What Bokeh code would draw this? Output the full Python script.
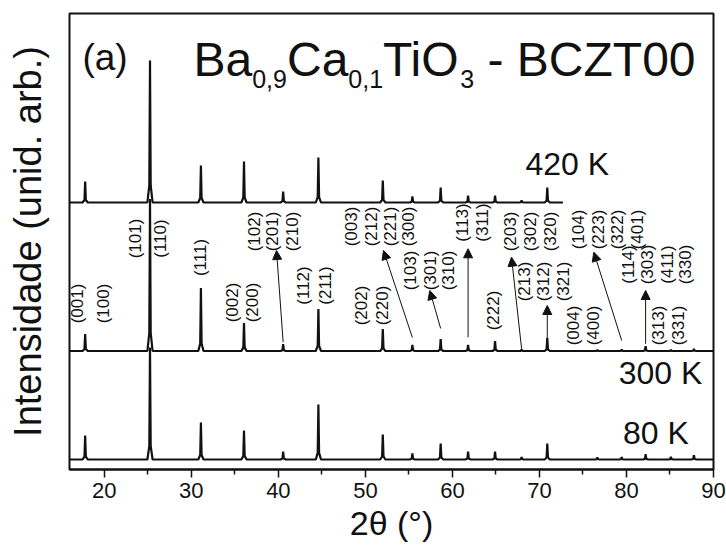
import math
from bokeh.plotting import figure
from bokeh.models import ColumnDataSource, Label, Arrow, NormalHead, FixedTicker, Range1d
from bokeh.core.properties import value
from bokeh.embed import file_html
from bokeh.resources import INLINE

# ---------------- data ----------------
peak_pos = [17.8, 25.25, 31.1, 36.05, 40.55, 44.6, 52.0, 55.4, 58.65, 61.8,
            64.9, 67.95, 70.9, 76.65, 79.45, 82.2, 85.1, 87.75]
int_80K = [24, 112, 37, 29, 8, 55, 25, 6, 16, 8, 8, 2.3, 16, 2, 2.3, 5.3, 2.7, 4.3]
int_300K = [17, 152, 63, 28, 7, 42, 22, 6, 12, 6, 10, 1.5, 13.5, 1, 1.5, 4.7, 1, 2]
int_420K = [21, 142, 37, 41, 11, 45, 22, 6, 15, 7, 7, 2, 15]
offset_80K, offset_300K, offset_420K = 10, 118.5, 267
x_min, x_max, x_end_420K = 16, 90, 72.7
temp_labels = ["420 K", "300 K", "80 K"]
temp_label_x = [73.19, 83.91, 83.39]
temp_label_y = [305.5, 97, 37]

hkl_text = ["(001)", "(100)", "(101)", "(110)", "(111)", "(002)", "(200)",
            "(102)", "(201)", "(210)", "(112)", "(211)", "(202)", "(220)",
            "(003)", "(212)", "(221)", "(300)", "(103)", "(301)", "(310)",
            "(113)", "(311)", "(222)", "(203)", "(302)", "(320)",
            "(213)", "(312)", "(321)", "(004)", "(400)",
            "(104)", "(223)", "(322)", "(401)", "(114)", "(303)", "(411)", "(330)",
            "(313)", "(331)"]
hkl_x = [16.95, 19.94, 23.58, 26.46, 31.05, 34.70, 36.99,
         37.26, 39.36, 41.66, 42.92, 45.42, 49.55, 51.93,
         48.37, 50.67, 52.89, 54.99, 55.18, 57.48, 59.58,
         61.12, 63.42, 64.75, 66.67, 68.97, 71.27,
         68.28, 70.50, 72.80, 73.88, 76.18,
         74.52, 76.82, 78.93, 81.23, 80.27, 82.38, 84.68, 86.78,
         83.71, 85.94]
hkl_y = [166, 166, 231, 231, 212, 167, 167,
         238, 238, 238, 184, 184, 164, 164,
         243, 243, 243, 243, 199, 199, 199,
         247, 247, 159, 238, 238, 238,
         188, 188, 188, 144, 144,
         240, 240, 240, 240, 205, 205, 205, 205,
         144, 144]

arrow_x0 = [40.55, 55.4, 58.65, 61.8, 67.95, 70.9, 79.45, 82.2]
arrow_y0 = [127.3, 132, 141, 132.3, 120.7, 132.3, 129, 125.7]
arrow_x1 = [39.79, 52.08, 57.40, 61.8, 66.79, 70.9, 76.25, 82.2]
arrow_y1 = [219, 219, 179, 220.7, 212.3, 164, 217.3, 179]

x_ticks = [20, 30, 40, 50, 60, 70, 80, 90]
x_minor = [25, 35, 45, 55, 65, 75, 85]

FONT = "Liberation Sans"
INK = "#111111"

# ---------------- figure ----------------
p = figure(width=726, height=547, output_backend="svg", toolbar_location=None,
           x_range=Range1d(x_min, x_max), y_range=Range1d(0, 456),
           min_border_left=69, min_border_right=13,
           min_border_top=13, min_border_bottom=78)
p.xgrid.visible = False
p.ygrid.visible = False
p.outline_line_color = INK
p.outline_line_width = 2
p.background_fill_color = "white"
p.border_fill_color = "white"

ax = p.xaxis[0]
ax.ticker = FixedTicker(ticks=x_ticks, minor_ticks=x_minor)
ax.axis_line_width = 2
ax.axis_line_color = INK
ax.major_tick_in = 0
ax.major_tick_out = 8
ax.minor_tick_in = 0
ax.minor_tick_out = 5
ax.major_tick_line_width = 1.5
ax.minor_tick_line_width = 1.5
ax.major_tick_line_color = INK
ax.minor_tick_line_color = INK
ax.major_label_text_font = FONT
ax.major_label_text_font_size = "22px"
ax.major_label_text_color = INK
ax.major_label_standoff = 5
ax.axis_label = "2θ (°)"
ax.axis_label_text_font = FONT
ax.axis_label_text_font_size = "34px"
ax.axis_label_text_font_style = "normal"
ax.axis_label_text_color = INK
ax.axis_label_standoff = 3

ay = p.yaxis[0]
ay.ticker = FixedTicker(ticks=[])
ay.axis_line_color = None
ay.major_tick_line_color = None
ay.minor_tick_line_color = None
ay.major_label_text_font_size = "0px"
ay.axis_label = "Intensidade (unid. arb.)"
ay.axis_label_text_font = FONT
ay.axis_label_text_font_size = "38px"
ay.axis_label_text_font_style = "normal"
ay.axis_label_text_color = INK
ay.axis_label_standoff = 21


def build_trace(base, pos, hts, xend):
    xs, ys = [x_min], [base]
    for x, h in zip(pos, hts):
        if x > xend:
            break
        xs += [x - 0.3, x - 0.08, x, x + 0.08, x + 0.3]
        ys += [base, base + 0.12 * h, base + h, base + 0.12 * h, base]
    xs.append(xend)
    ys.append(base)
    return xs, ys


for base, hts, xend in [(offset_80K, int_80K, x_max),
                        (offset_300K, int_300K, x_max),
                        (offset_420K, int_420K, x_end_420K)]:
    xs, ys = build_trace(base, peak_pos, hts, xend)
    p.line(xs, ys, line_color=INK, line_width=2.2)

# hkl labels
src = ColumnDataSource(dict(x=hkl_x, y=hkl_y, t=hkl_text))
p.text(x="x", y="y", text="t", source=src, angle=math.pi / 2,
       text_font=value(FONT), text_font_size=value("17px"),
       text_align="center", text_baseline="middle", text_color=INK)

# arrows
asrc = ColumnDataSource(dict(x0=arrow_x0, y0=arrow_y0, x1=arrow_x1, y1=arrow_y1))
p.add_layout(Arrow(end=NormalHead(size=9, fill_color=INK, line_color=INK, line_width=1),
                   x_start="x0", y_start="y0", x_end="x1", y_end="y1",
                   source=asrc, line_width=1, line_color=INK))

# temperature labels
for t, x, y in zip(temp_labels, temp_label_x, temp_label_y):
    p.add_layout(Label(x=x, y=y, text=t, text_font=FONT, text_font_size="32px",
                       text_align="center", text_baseline="middle", text_color=INK))

# panel tag and title with subscripts
p.add_layout(Label(x=17.49, y=412, text="(a)", text_font=FONT, text_font_size="37px",
                   text_align="left", text_baseline="alphabetic", text_color=INK))
title_parts = [("Ba", 30.25, 410, "48px"), ("0,9", 36.99, 391, "25px"),
               ("Ca", 40.99, 410, "48px"), ("0,1", 48.04, 391, "25px"),
               ("TiO", 52.02, 410, "48px"), ("3", 60.91, 391, "25px"),
               ("- BCZT00", 64.03, 410, "48px")]
for t, x, y, fs in title_parts:
    p.add_layout(Label(x=x, y=y, text=t, text_font=FONT, text_font_size=fs,
                       text_align="left", text_baseline="alphabetic", text_color=INK))

open("out.html", "w").write(file_html(p, INLINE))
